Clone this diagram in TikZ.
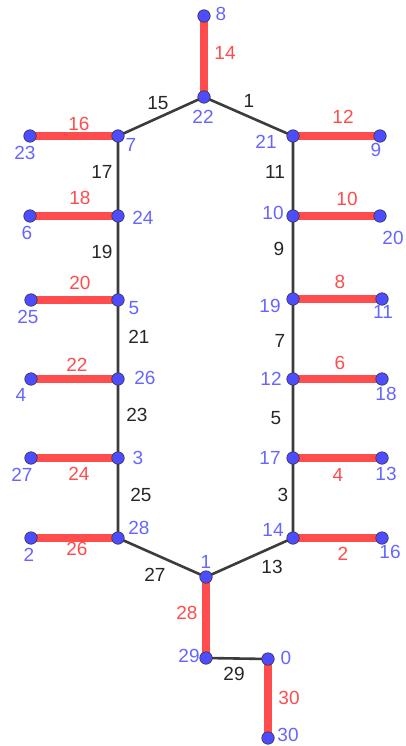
\documentclass[tikz,border=0pt]{standalone}
\usepackage{fontspec}
\setmainfont{Liberation Sans}
\usetikzlibrary{backgrounds}
\definecolor{ggblue}{RGB}{77,77,255}
\definecolor{gglabel}{RGB}{102,102,255}
\definecolor{ggred}{RGB}{255,77,77}
\definecolor{gggray}{RGB}{60,60,60}
\begin{document}
\begin{tikzpicture}[x=1pt, y=-1pt, every node/.style={font=\fontsize{19}{22}\selectfont},
  vtx/.style={circle, fill=ggblue, draw=black!80, line width=0.6pt, inner sep=0pt, minimum size=12.5pt},
  vlab/.style={text=gglabel, inner sep=0pt},
  rlab/.style={text=ggred, inner sep=0pt},
  blab/.style={text=black!85, inner sep=0pt},
  redge/.style={ggred, line width=7.5pt},
  bedge/.style={gggray, line width=2.6pt}]
\useasboundingbox (0,0) rectangle (406,746);
% vertices
\node[vtx] (v8) at (204,16) {};
\node[vtx] (v22) at (204,97) {};
\node[vtx] (v7) at (118,136) {};
\node[vtx] (v23) at (30,136) {};
\node[vtx] (v21) at (293,136) {};
\node[vtx] (v9) at (380,136) {};
\node[vtx] (v24) at (118,216) {};
\node[vtx] (v6) at (30,216) {};
\node[vtx] (v10) at (293,216) {};
\node[vtx] (v20) at (380,216) {};
\node[vtx] (v5) at (118,300) {};
\node[vtx] (v25) at (31,300) {};
\node[vtx] (v19) at (293,299) {};
\node[vtx] (v11) at (382,299) {};
\node[vtx] (v26) at (118,379) {};
\node[vtx] (v4) at (31,379) {};
\node[vtx] (v12) at (293,379) {};
\node[vtx] (v18) at (382,379) {};
\node[vtx] (v3) at (118,458) {};
\node[vtx] (v27) at (31,458) {};
\node[vtx] (v17) at (293,458) {};
\node[vtx] (v13) at (382,458) {};
\node[vtx] (v28) at (118,538) {};
\node[vtx] (v2) at (31,538) {};
\node[vtx] (v14) at (293,538) {};
\node[vtx] (v16) at (382,538) {};
\node[vtx] (v1) at (206,577) {};
\node[vtx] (v29) at (206,658) {};
\node[vtx] (v0) at (268,659) {};
\node[vtx] (v30) at (268,738) {};
% edges
\begin{scope}[on background layer]
\draw[redge] (v8.center) -- (v22.center);
\draw[redge] (v23.center) -- (v7.center);
\draw[redge] (v21.center) -- (v9.center);
\draw[redge] (v6.center) -- (v24.center);
\draw[redge] (v10.center) -- (v20.center);
\draw[redge] (v25.center) -- (v5.center);
\draw[redge] (v19.center) -- (v11.center);
\draw[redge] (v4.center) -- (v26.center);
\draw[redge] (v12.center) -- (v18.center);
\draw[redge] (v27.center) -- (v3.center);
\draw[redge] (v17.center) -- (v13.center);
\draw[redge] (v2.center) -- (v28.center);
\draw[redge] (v14.center) -- (v16.center);
\draw[redge] (v1.center) -- (v29.center);
\draw[redge] (v0.center) -- (v30.center);
\draw[bedge] (v7.center) -- (v22.center) -- (v21.center);
\draw[bedge] (v7.center) -- (v24.center) -- (v5.center) -- (v26.center) -- (v3.center) -- (v28.center) -- (v1.center);
\draw[bedge] (v21.center) -- (v10.center) -- (v19.center) -- (v12.center) -- (v17.center) -- (v14.center) -- (v1.center);
\draw[bedge] (v29.center) -- (v0.center);
\end{scope}
% vertex labels
\node[vlab] (l8) at (221,14) {8};
\node[vlab] (l22) at (203,117) {22};
\node[vlab] (l7) at (131,145) {7};
\node[vlab] (l23) at (25,153) {23};
\node[vlab] (l21) at (266,142) {21};
\node[vlab] (l9) at (376,150) {9};
\node[vlab] (l24) at (143,218) {24};
\node[vlab] (l6) at (27,233) {6};
\node[vlab] (l10) at (273,213) {10};
\node[vlab] (l20) at (393,238) {20};
\node[vlab] (l5) at (134,308) {5};
\node[vlab] (l25) at (28,317) {25};
\node[vlab] (l19) at (270,306) {19};
\node[vlab] (l11) at (383,312) {11};
\node[vlab] (l26) at (145,378) {26};
\node[vlab] (l4) at (21,395) {4};
\node[vlab] (l12) at (271,379) {12};
\node[vlab] (l18) at (386,394) {18};
\node[vlab] (l3) at (138,458) {3};
\node[vlab] (l27) at (22,475) {27};
\node[vlab] (l17) at (270,458) {17};
\node[vlab] (l13) at (386,474) {13};
\node[vlab] (l28) at (139,528) {28};
\node[vlab] (l2) at (29,555) {2};
\node[vlab] (l14) at (273,530) {14};
\node[vlab] (l16) at (390,552) {16};
\node[vlab] (l1) at (206,562) {1};
\node[vlab] (l29) at (189,656) {29};
\node[vlab] (l0) at (286,658) {0};
\node[vlab] (l30) at (288,735) {30};
% edge labels
\node[rlab] (e14) at (225,53) {14};
\node[blab] (e15) at (158,103) {15};
\node[blab] (e1) at (249,101) {1};
\node[rlab] (e16) at (79,124) {16};
\node[rlab] (e12) at (343,117) {12};
\node[blab] (e17) at (102,172) {17};
\node[blab] (e11) at (275,172) {11};
\node[rlab] (e18) at (80,198) {18};
\node[rlab] (e10) at (347,199) {10};
\node[blab] (e19) at (102,252) {19};
\node[blab] (e9) at (279,249) {9};
\node[rlab] (e20) at (80,283) {20};
\node[rlab] (e8) at (340,282) {8};
\node[blab] (e21) at (139,337) {21};
\node[blab] (e7) at (280,341) {7};
\node[rlab] (e22) at (77,365) {22};
\node[rlab] (e6) at (340,363) {6};
\node[blab] (e23) at (137,415) {23};
\node[blab] (e5) at (276,418) {5};
\node[rlab] (e24) at (79,474) {24};
\node[rlab] (e4) at (338,475) {4};
\node[blab] (e25) at (141,495) {25};
\node[blab] (e3) at (283,495) {3};
\node[rlab] (e26) at (77,549) {26};
\node[rlab] (e2) at (343,554) {2};
\node[blab] (e27) at (155,575) {27};
\node[blab] (e13) at (272,567) {13};
\node[rlab] (e28) at (187,613) {28};
\node[blab] (e29) at (234,674) {29};
\node[rlab] (e30) at (289,698) {30};
\end{tikzpicture}
\end{document}
